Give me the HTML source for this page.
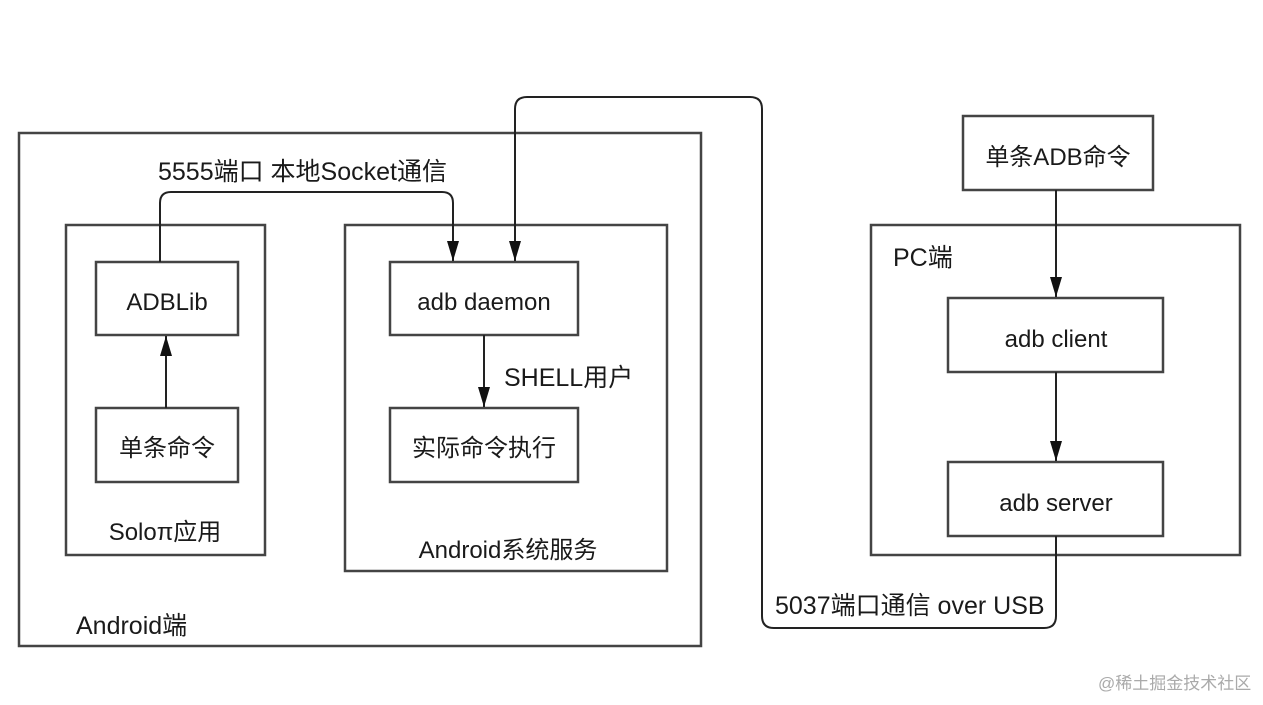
<!DOCTYPE html>
<html><head><meta charset="utf-8"><style>
body{margin:0;background:#fff}
svg text{font-family:"Liberation Sans","Noto Sans CJK SC",sans-serif;fill:#1a1a1a}
</style></head><body>
<svg width="1263" height="700" viewBox="0 0 1263 700" xmlns="http://www.w3.org/2000/svg">
<defs>
<marker id="ar" viewBox="0 0 20 12" markerWidth="20" markerHeight="12" refX="20" refY="6" orient="auto" markerUnits="userSpaceOnUse"><path d="M0,0 L20,6 L0,12 z" fill="#111"/></marker></defs>
<g fill="none" stroke="#444" stroke-width="2.5">
<rect x="19" y="133" width="682" height="513"/>
<rect x="66" y="225" width="199" height="330"/>
<rect x="96" y="262" width="142" height="73"/>
<rect x="96" y="408" width="142" height="74"/>
<rect x="345" y="225" width="322" height="346"/>
<rect x="390" y="262" width="188" height="73"/>
<rect x="390" y="408" width="188" height="74"/>
<rect x="871" y="225" width="369" height="330"/>
<rect x="963" y="116" width="190" height="74"/>
<rect x="948" y="298" width="215" height="74"/>
<rect x="948" y="462" width="215" height="74"/>
</g>
<g fill="none" stroke="#222" stroke-width="2">
<path d="M160,262 V203 Q160,192 171,192 H442 Q453,192 453,203 V261" marker-end="url(#ar)"/>
<path d="M515,250 V109 Q515,97 527,97 H750 Q762,97 762,109 V616 Q762,628 774,628 H1044 Q1056,628 1056,616 V536"/>
<path d="M515,240 V261" marker-end="url(#ar)"/>
<path d="M166,408 V336" marker-end="url(#ar)"/>
<path d="M484,335 V407" marker-end="url(#ar)"/>
<path d="M1056,190 V297" marker-end="url(#ar)"/>
<path d="M1056,372 V461" marker-end="url(#ar)"/>
</g>
<g font-size="24" text-anchor="middle">
<text x="167" y="310">ADBLib</text>
<text x="167" y="456">单条命令</text>
<text x="484" y="310">adb daemon</text>
<text x="484" y="456">实际命令执行</text>
<text x="1058" y="165">单条ADB命令</text>
<text x="1056" y="347">adb client</text>
<text x="1056" y="511">adb server</text>
<text x="165" y="540">Soloπ应用</text>
<text x="508" y="558">Android系统服务</text>
</g>
<g font-size="25">
<text x="158" y="180">5555端口 本地Socket通信</text>
<text x="504" y="386">SHELL用户</text>
<text x="76" y="634">Android端</text>
<text x="893" y="266">PC端</text>
<text x="775" y="614">5037端口通信 over USB</text>
</g>
<text x="1098" y="689" font-size="17" style="fill:#aaa">@稀土掘金技术社区</text>
</svg>
</body></html>
